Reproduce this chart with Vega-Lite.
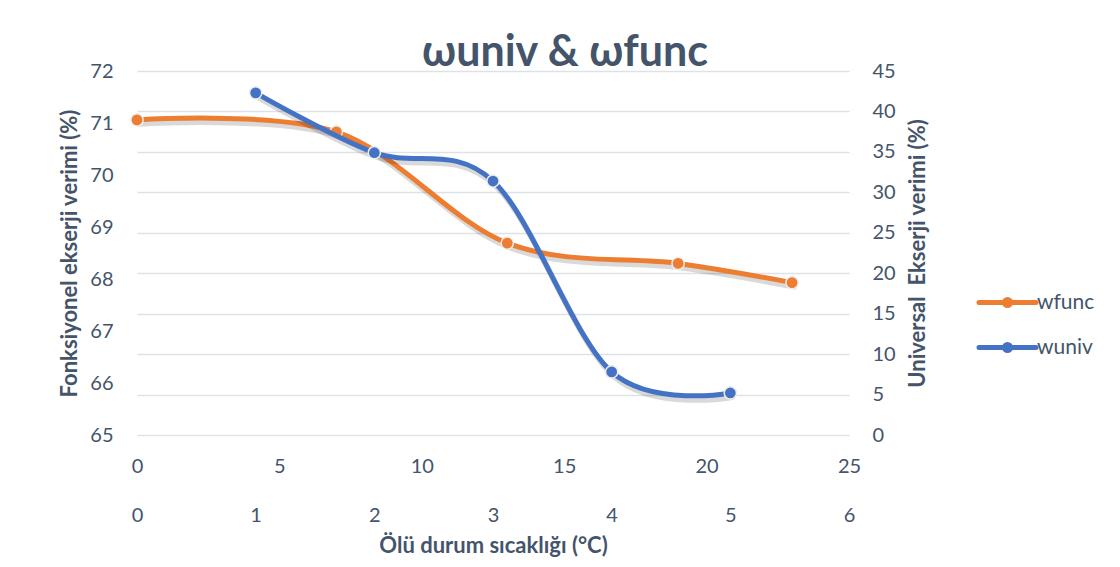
{
  "$schema": "https://vega.github.io/schema/vega-lite/v6.json",
  "width": 712,
  "height": 364,
  "autosize": {"type": "none"},
  "padding": {"left": 137, "top": 71, "right": 271, "bottom": 132},
  "background": "white",
  "title": {
    "text": "ωuniv & ωfunc",
    "font": "Lato",
    "fontSize": 43,
    "fontWeight": "bold",
    "color": "#44546A",
    "anchor": "middle",
    "frame": "group",
    "dx": 72,
    "dy": 54,
    "baseline": "alphabetic",
    "offset": 6
  },
  "data": {
    "values": [
      {"series": "wfunc", "x": 0, "y": 71.06},
      {"series": "wfunc", "x": 7, "y": 70.83},
      {"series": "wfunc", "x": 13, "y": 68.69},
      {"series": "wfunc", "x": 19, "y": 68.30},
      {"series": "wfunc", "x": 23, "y": 67.93},
      {"series": "wuniv", "x": 1, "y": 42.3},
      {"series": "wuniv", "x": 2, "y": 34.9},
      {"series": "wuniv", "x": 3, "y": 31.4},
      {"series": "wuniv", "x": 4, "y": 7.8},
      {"series": "wuniv", "x": 5, "y": 5.2}
    ]
  },
  "layer": [
    {
      "transform": [{"filter": "datum.series === 'wfunc'"}],
      "encoding": {
        "x": {
          "field": "x", "type": "quantitative",
          "scale": {"domain": [0, 25], "nice": false, "zero": false},
          "axis": {
            "orient": "bottom", "values": [0, 5, 10, 15, 20, 25], "title": null,
            "domain": false, "ticks": false, "tickSize": 0, "grid": false, "labelFlush": false,
            "labelPadding": 21, "labelFontSize": 20, "labelFont": "Lato", "labelColor": "#44546A"
          }
        },
        "y": {
          "field": "y", "type": "quantitative",
          "scale": {"domain": [65, 72], "nice": false, "zero": false},
          "axis": {
            "orient": "left", "values": [65, 66, 67, 68, 69, 70, 71, 72],
            "title": "Fonksiyonel ekserji verimi (%)",
            "titleFont": "Lato", "titleFontSize": 22, "titleFontWeight": "bold", "titleColor": "#44546A",
            "titlePadding": 8,
            "domain": false, "ticks": false, "tickSize": 0, "grid": false, "labelFlush": false,
            "labelPadding": 24, "labelFontSize": 20, "labelFont": "Lato", "labelColor": "#44546A"
          }
        },
        "color": {
          "field": "series", "type": "nominal",
          "scale": {"domain": ["wfunc", "wuniv"], "range": ["#ED7D31", "#4472C4"]},
          "legend": {
            "orient": "none", "legendX": 860, "legendY": 221, "title": null,
            "padding": 0, "rowPadding": 18,
            "symbolType": "M-4.75,0H4.75M0.5,0A0.5,0.5,0,1,1,-0.5,0A0.5,0.5,0,1,1,0.5,0Z",
            "symbolSize": 144, "symbolStrokeWidth": 5,
            "labelOffset": 19, "labelFontSize": 21, "labelFont": "Lato", "labelColor": "#44546A",
            "encode": {
              "symbols": {
                "update": {
                  "fill": {"scale": "color", "field": "value"},
                  "stroke": {"scale": "color", "field": "value"},
                  "strokeCap": {"value": "round"},
                  "opacity": {"value": 1}
                }
              }
            }
          }
        }
      },
      "layer": [
        {"mark": {"type": "line", "interpolate": "cardinal", "strokeWidth": 6, "strokeCap": "round", "color": "#000000", "opacity": 0.15, "xOffset": 2, "yOffset": 4}, "encoding": {"color": {"value": "#000000"}}},
        {"mark": {"type": "line", "interpolate": "cardinal", "strokeWidth": 5, "strokeCap": "round"}},
        {"mark": {"type": "point", "filled": true, "shape": "circle", "size": 150, "stroke": "#eeeeee", "strokeWidth": 1.5, "opacity": 1}}
      ]
    },
    {
      "transform": [{"filter": "datum.series === 'wuniv'"}],
      "encoding": {
        "x": {
          "field": "x", "type": "quantitative",
          "scale": {"domain": [0, 6], "nice": false, "zero": false},
          "axis": {
            "orient": "bottom", "values": [0, 1, 2, 3, 4, 5, 6], "offset": 49,
            "title": "Ölü durum sıcaklığı (°C)",
            "titleFont": "Lato", "titleFontSize": 22, "titleFontWeight": "bold", "titleColor": "#44546A",
            "titlePadding": 10,
            "domain": false, "ticks": false, "tickSize": 0, "grid": false, "labelFlush": false,
            "labelPadding": 21, "labelFontSize": 20, "labelFont": "Lato", "labelColor": "#44546A"
          }
        },
        "y": {
          "field": "y", "type": "quantitative",
          "scale": {"domain": [0, 45], "nice": false, "zero": false},
          "axis": {
            "orient": "right", "values": [0, 5, 10, 15, 20, 25, 30, 35, 40, 45],
            "title": "Universal \u00a0Ekserji verimi (%)",
            "titleFont": "Lato", "titleFontSize": 22, "titleFontWeight": "bold", "titleColor": "#44546A",
            "titleAngle": 270, "titlePadding": 34,
            "domain": false, "ticks": false, "tickSize": 0, "labelFlush": false,
            "grid": true, "gridColor": "#DDE1E8", "gridWidth": 1.5,
            "labelPadding": 23, "labelFontSize": 20, "labelFont": "Lato", "labelColor": "#44546A"
          }
        },
        "color": {"field": "series", "type": "nominal"}
      },
      "layer": [
        {"mark": {"type": "line", "interpolate": "cardinal", "strokeWidth": 6, "strokeCap": "round", "color": "#000000", "opacity": 0.15, "xOffset": 2, "yOffset": 4}, "encoding": {"color": {"value": "#000000"}}},
        {"mark": {"type": "line", "interpolate": "cardinal", "strokeWidth": 5, "strokeCap": "round"}},
        {"mark": {"type": "point", "filled": true, "shape": "circle", "size": 150, "stroke": "#eeeeee", "strokeWidth": 1.5, "opacity": 1}}
      ]
    }
  ],
  "resolve": {"scale": {"x": "independent", "y": "independent", "color": "shared"}},
  "config": {"view": {"stroke": null}, "font": "Lato"}
}
